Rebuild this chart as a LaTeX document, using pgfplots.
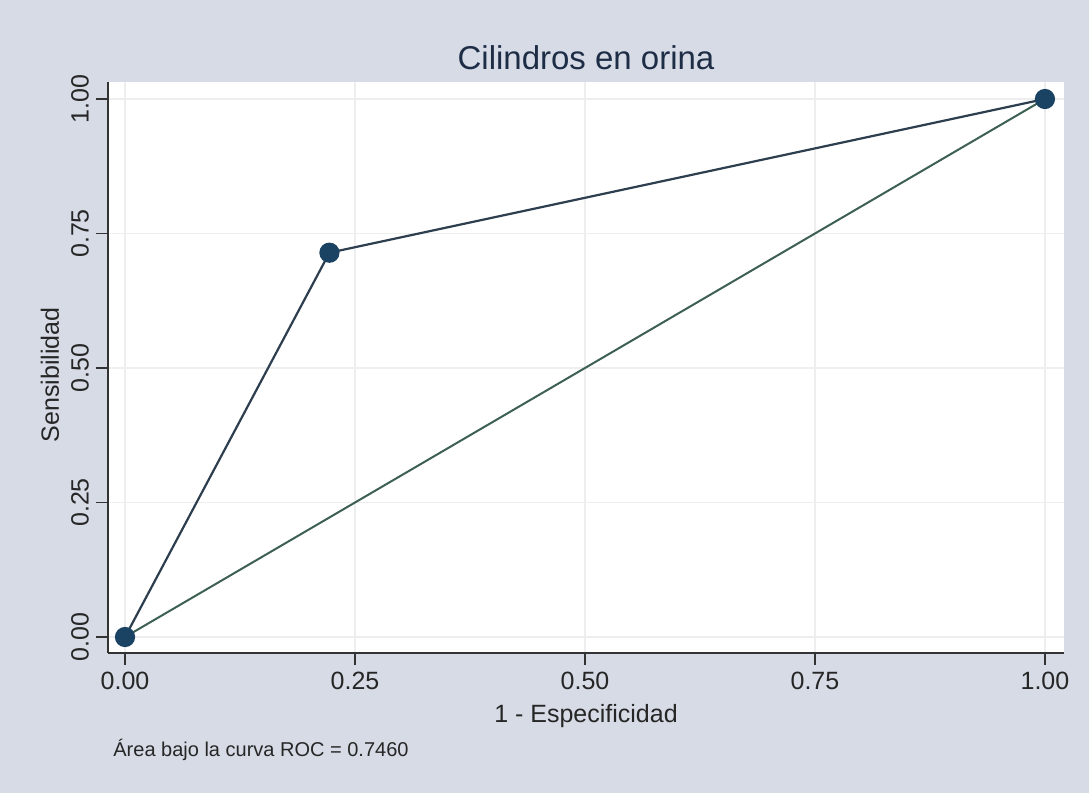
\documentclass[border=0pt]{standalone}
\usepackage{pgfplots}
\pgfplotsset{compat=1.18}
\usepackage{fontspec}
\setmainfont{Liberation Sans}
\definecolor{bgc}{RGB}{214,219,230}
\definecolor{navy}{RGB}{26,66,98}
\definecolor{rocl}{RGB}{45,62,78}
\definecolor{diag}{RGB}{62,96,82}
\definecolor{titlec}{RGB}{30,45,70}
\definecolor{gridc}{RGB}{238,238,238}
\begin{document}
\begin{tikzpicture}
\fill[bgc] (0,0) rectangle (544.5pt,396.5pt);
\begin{axis}[
  at={(54pt,70pt)}, anchor=south west,
  scale only axis, width=478pt, height=285.5pt,
  xmin=-0.0185, xmax=1.0207, ymin=-0.0297, ymax=1.0316,
  axis background/.style={fill=white},
  axis lines*=left,
  axis line style={draw=black!80, line width=0.7pt},
  tick align=outside, major tick length=6pt,
  tick style={black!80, line width=0.7pt},
  xtick={0,0.25,0.5,0.75,1}, ytick={0,0.25,0.5,0.75,1},
  xticklabels={0.00,0.25,0.50,0.75,1.00},
  yticklabels={0.00,0.25,0.50,0.75,1.00},
  grid=major, major grid style={gridc, line width=0.8pt},
  tick label style={font=\fontsize{12.5}{14}\selectfont, black!85},
  yticklabel style={rotate=90, anchor=south, xshift=0pt},
  /pgf/number format/assume math mode=true,
  xlabel={1 - Especificidad}, ylabel={Sensibilidad},
  label style={font=\fontsize{12.5}{14}\selectfont, black!85},
  xlabel style={at={(axis description cs:0.5,-0.110)}, anchor=center},
  ylabel style={at={(axis description cs:-0.0607,0.487)}, anchor=center, rotate=0},
  title={Cilindros en orina},
  title style={at={(axis description cs:0.5,1.021)}, anchor=center, font=\fontsize{16.5}{18}\selectfont, text=titlec},
  clip=false,
]
\addplot[diag, line width=1pt] coordinates {(0,0) (1,1)};
\addplot[rocl, line width=1.1pt, mark=*, mark size=4.5pt, mark options={fill=navy, draw=navy}] coordinates {(0,0) (0.2222,0.7143) (1,1)};
\end{axis}
\node[anchor=base west, inner sep=0pt, font=\fontsize{10}{11}\selectfont, black!85] at (56.5pt,18pt) {Área bajo la curva ROC = 0.7460};
\end{tikzpicture}
\end{document}
